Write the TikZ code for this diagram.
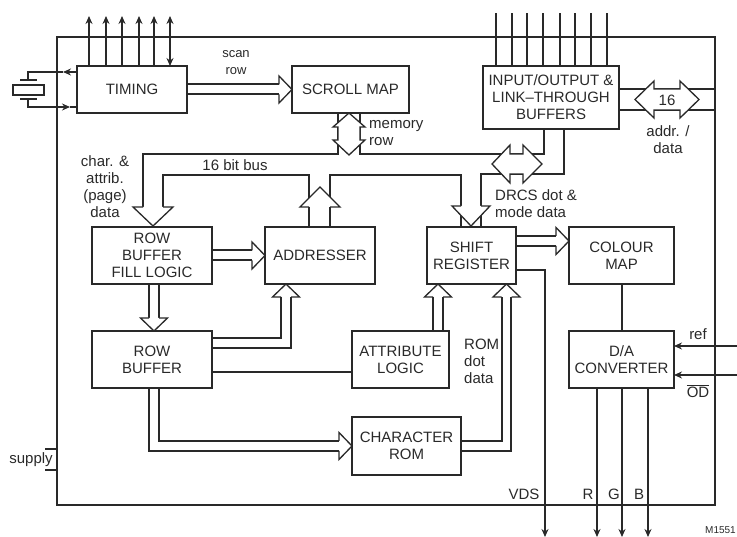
\documentclass[tikz,border=0pt]{standalone}
\usepackage{fontspec}
\setmainfont{Liberation Sans}
\usepackage{xcolor}
\usetikzlibrary{arrows.meta,positioning,backgrounds,calc}
\definecolor{ink}{gray}{0.16}
\tikzset{
  box/.style   ={draw=ink, line width=1.3pt, align=center, outer sep=0pt, inner sep=0pt, text=ink, font=\fontsize{15}{17}\selectfont},
  lbl/.style   ={align=center, inner sep=0pt, text=ink, font=\fontsize{15}{17}\selectfont},
  wire/.style  ={draw=ink, line width=1.3pt, line join=miter},
  pin/.style   ={wire, -{Stealth[length=8pt,width=7pt]}},
  bipin/.style ={wire, {Stealth[length=8pt,width=7pt]}-{Stealth[length=8pt,width=7pt]}},
  wide/.style  ={wire, fill=white},
  buscap/.pic  ={\draw[wide] (-13,-5) -- (-13,-13.5) -- (0,0) -- (-13,13.5) -- (-13,5);},
}
\begin{document}
\begin{tikzpicture}[x=1pt,y=-1pt]
  \useasboundingbox (0,0) rectangle (737,537);
  \node[box, minimum width=658pt, minimum height=468pt] (chip) at (386,271) {};
  \node[box, minimum width=110pt, minimum height=47pt] (timing) at (132,89.5) {TIMING};
  \node[box, minimum width=117pt, minimum height=47pt, right=105pt of timing] (scroll) {SCROLL MAP};
  \node[box, minimum width=136pt, minimum height=63pt, right=74pt of scroll, yshift=-8pt] (io) {INPUT/OUTPUT \&\\LINK–THROUGH\\BUFFERS};
  \node[box, minimum width=120pt, minimum height=57pt] (fill) at (152,255.5) {ROW\\BUFFER\\FILL LOGIC};
  \node[box, minimum width=110pt, minimum height=57pt, right=53pt of fill] (addresser) {ADDRESSER};
  \node[box, minimum width=89pt, minimum height=57pt, right=52pt of addresser] (shift) {SHIFT\\REGISTER};
  \node[box, minimum width=105pt, minimum height=57pt, right=53pt of shift] (colour) {COLOUR\\MAP};
  \node[box, minimum width=120pt, minimum height=57pt, below=47pt of fill] (rowbuf) {ROW\\BUFFER};
  \node[box, minimum width=97pt, minimum height=57pt, right=140pt of rowbuf] (attr) {ATTRIBUTE\\LOGIC};
  \node[box, minimum width=105pt, minimum height=57pt, below=47pt of colour] (dac) {D/A\\CONVERTER};
  \node[box, minimum width=109pt, minimum height=58pt, below right=29pt and 0pt of attr.south west] (charrom) {CHARACTER\\ROM};
  % labels
  \node[lbl, font=\fontsize{13}{17}\selectfont] (scan) at (236,63) {scan\\row};
  \node[lbl, align=left, anchor=west] (memrow) at (369,133.5) {memory\\row};
  \node[lbl] (pagedata) at (105,186.5) {char. \&\\attrib.\\(page)\\data};
  \node[lbl] (bitbus) at (235,165) {16 bit bus};
  \node[lbl, align=left, anchor=west] (drcs) at (495,203.5) {DRCS dot \&\\mode data};
  \node[lbl] (addr) at (668,140) {addr. /\\data};
  \node[lbl] (width16) at (667,100) {16};
  \node[lbl, align=left, anchor=west] (romdot) at (464,361.5) {ROM\\dot\\data};
  \node[lbl] (vds) at (524,494) {VDS};
  \node[lbl] (rr) at (588,494) {R};
  \node[lbl] (gg) at (614,494) {G};
  \node[lbl] (bb) at (639,494) {B};
  \node[lbl] (refl) at (698,334) {ref};
  \node[lbl] (odl) at (698,391) {$\overline{\mbox{OD}}$};
  \node[lbl] (supply) at (31,460) {supply};
  \node[lbl, anchor=west, font=\fontsize{10}{10}\selectfont] (code) at (705,530.5) {M1551};
  \coordinate (refin) at (737,346);
  \coordinate (odin) at (737,375);
  \begin{scope}[on background layer]
    % pins along the top
    \foreach \x in {89,106,122,139,154} {
      \draw[pin] (\x,0 |- timing.north) -- (\x,16);
    }
    \draw[bipin] (170,0 |- timing.north) -- (170,16);
    \foreach \x in {496,512,527,543,560,575,591,607} {
      \draw[wire] (\x,0 |- io.north) -- (\x,13);
    }
    % crystal
    \draw[pin] (timing.west |- 0,72) -- (63,72);
    \draw[wire] (63,72) -- (28,72) -- (28,80);
    \draw[pin] (28,99) -- (28,107) -- (70,107);
    \draw[wire] (70,107) -- (timing.west |- 0,107);
    \draw[wire] (20,80) -- (37,80);
    \draw[wire] (20,99) -- (37,99);
    \draw[wire] (13,85) rectangle (44,95);
    % supply
    \draw[wire] (45,449) -- (chip.west |- 0,449);
    \draw[wire] (45,470) -- (chip.west |- 0,470);
    % the 16 bit bus
    \draw[wire] (338,0 |- scroll.south) -- (338,154) -- (143,154) -- (143,207);
    \draw[wire] (360,0 |- scroll.south) -- (360,154) -- (544,154) -- (544,0 |- io.south);
    \draw[wire] (163,207) -- (163,175) -- (309,175) -- (309,0 |- addresser.north);
    \draw[wire] (330,0 |- addresser.north) -- (330,175) -- (461,175) -- (461,0 |- shift.north);
    \draw[wire] (481,0 |- shift.north) -- (481,174) -- (564,174) -- (564,0 |- io.south);
    \draw[wide] (349,113) -- (365,127) -- (360,127) -- (360,140) -- (365,140) -- (349,155)
      -- (333,140) -- (338,140) -- (338,127) -- (333,127) -- cycle;
    \draw[wide] (492,164) -- (510,145) -- (510,154) -- (523,154) -- (523,145) -- (542,164)
      -- (523,183) -- (523,174) -- (510,174) -- (510,183) -- cycle;
    \draw[wide] (143,207) -- (133,207) -- (153,226) -- (173,207) -- (163,207);
    \draw[wide] (309,207) -- (300,207) -- (320,187) -- (340,207) -- (330,207);
    \draw[wide] (461,206) -- (452,206) -- (471,226) -- (490,206) -- (481,206);
    % addr./data
    \draw[wire] (io.east |- 0,89) -- (chip.east |- 0,89);
    \draw[wire] (io.east |- 0,110) -- (chip.east |- 0,110);
    \draw[wide] (635,99.5) -- (654,81) -- (654,89) -- (680,89) -- (680,81) -- (699,99.5)
      -- (680,118) -- (680,110) -- (654,110) -- (654,118) -- cycle;
    % hollow data paths
    \draw[wire] ($(timing.east)+(0,-5.5)$) -- ($(scroll.west)+(-13,-5.5)$);
    \draw[wire] ($(timing.east)+(0,4.5)$) -- ($(scroll.west)+(-13,4.5)$);
    \pic at (scroll.west) {buscap};
    \draw[wire] ($(fill.east)+(0,-5.5)$) -- ($(addresser.west)+(-13,-5.5)$);
    \draw[wire] ($(fill.east)+(0,4.5)$) -- ($(addresser.west)+(-13,4.5)$);
    \pic at (addresser.west) {buscap};
    \draw[wire] ($(fill.south)+(-3,0)$) -- ($(rowbuf.north)+(-3,-13)$);
    \draw[wire] ($(fill.south)+(7,0)$) -- ($(rowbuf.north)+(7,-13)$);
    \pic[rotate=-90] at ($(rowbuf.north)+(2,0)$) {buscap};
    \draw[wire] ($(rowbuf.east)+(0,-21.5)$) -| ($(addresser.south)+(-39,13)$);
    \draw[wire] ($(rowbuf.east)+(0,-11.5)$) -| ($(addresser.south)+(-29,13)$);
    \pic[rotate=90] at ($(addresser.south)+(-34,0)$) {buscap};
    \draw[wire] ($(rowbuf.south)+(-3,0)$) |- ($(charrom.west)+(-13,5)$);
    \draw[wire] ($(rowbuf.south)+(7,0)$) |- ($(charrom.west)+(-13,-5)$);
    \pic at (charrom.west) {buscap};
    \draw[wire] ($(charrom.east)+(0,-5)$) -| ($(shift.south)+(30.5,13)$);
    \draw[wire] ($(charrom.east)+(0,5)$) -| ($(shift.south)+(39.5,13)$);
    \pic[rotate=90] at ($(shift.south)+(35,0)$) {buscap};
    \draw[wire] ($(attr.north)+(32.5,0)$) -- ($(shift.south)+(-38.5,13)$);
    \draw[wire] ($(attr.north)+(42.5,0)$) -- ($(shift.south)+(-28.5,13)$);
    \pic[rotate=90] at ($(shift.south)+(-33.5,0)$) {buscap};
    \draw[wire] ($(shift.east)+(0,-19.5)$) -- ($(colour.west)+(-13,-19.5)$);
    \draw[wire] ($(shift.east)+(0,-9.5)$) -- ($(colour.west)+(-13,-9.5)$);
    \pic at ($(colour.west)+(0,-14.5)$) {buscap};
    % plain lines
    \draw[wire] ($(rowbuf.east)+(0,12.5)$) -- ($(attr.west)+(0,12.5)$);
    \draw[wire] ($(colour.south)+(0.5,0)$) -- ($(dac.north)+(0.5,0)$);
    \coordinate (vdsout) at (545,537);
    \coordinate (rout) at (597,537);
    \coordinate (gout) at (622,537);
    \coordinate (bout) at (648,537);
    \draw[pin] ($(shift.east)+(0,14.5)$) -| (vdsout);
    \draw[pin] (rout |- dac.south) -- (rout);
    \draw[pin] (gout |- dac.south) -- (gout);
    \draw[pin] (bout |- dac.south) -- (bout);
    \draw[pin] (refin) -- (dac.east |- refin);
    \draw[pin] (odin) -- (dac.east |- odin);
  \end{scope}
\end{tikzpicture}
\end{document}
